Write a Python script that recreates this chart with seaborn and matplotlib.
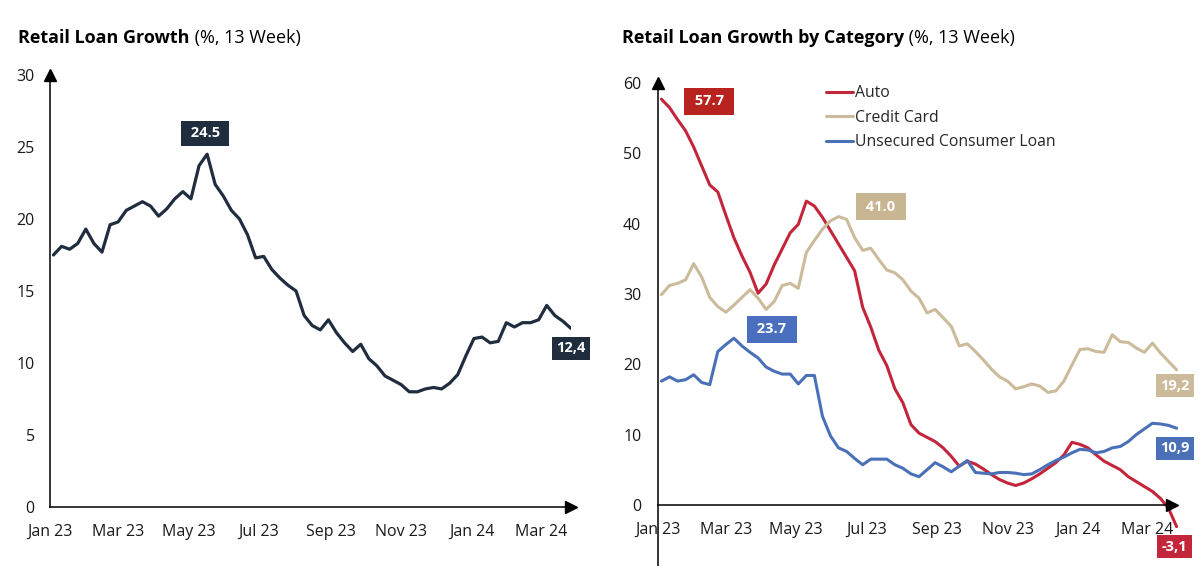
import pandas as pd
import seaborn as sns
import matplotlib.pyplot as plt
import matplotlib.dates as mdates

# weekly data, 13-week growth (%)
dates = pd.date_range('2023-01-04', periods=65, freq='7D')

total = [17.5, 18.1, 17.9, 18.3, 19.3, 18.3, 17.7, 19.6, 19.8, 20.6,
         20.9, 21.2, 20.9, 20.2, 20.7, 21.4, 21.9, 21.4, 23.7, 24.5,
         22.4, 21.6, 20.6, 20.0, 18.9, 17.3, 17.4, 16.5, 15.9, 15.4,
         15.0, 13.3, 12.6, 12.3, 13.0, 12.1, 11.4, 10.8, 11.3, 10.3,
         9.8, 9.1, 8.8, 8.5, 8.0, 8.0, 8.2, 8.3, 8.2, 8.6,
         9.2, 10.5, 11.7, 11.8, 11.4, 11.5, 12.8, 12.5, 12.8, 12.8,
         13.0, 14.0, 13.3, 12.9, 12.4]

auto = [57.7, 56.5, 54.8, 53.2, 50.9, 48.2, 45.5, 44.5, 41.2, 38.0,
        35.4, 33.1, 30.1, 31.4, 34.1, 36.4, 38.7, 39.9, 43.2, 42.5,
        40.9, 39.0, 37.1, 35.2, 33.3, 28.1, 25.3, 22.0, 19.8, 16.5,
        14.5, 11.4, 10.2, 9.6, 9.0, 8.1, 6.9, 5.5, 6.2, 5.8,
        5.1, 4.3, 3.6, 3.1, 2.75, 3.1, 3.7, 4.4, 5.2, 6.0,
        7.1, 8.9, 8.6, 8.1, 7.1, 6.2, 5.6, 5.0, 4.0, 3.3,
        2.6, 1.9, 0.9, -0.5, -3.1]

credit_card = [29.9, 31.2, 31.5, 32.0, 34.3, 32.4, 29.5, 28.2, 27.4, 28.4,
               29.5, 30.6, 29.4, 27.8, 28.9, 31.2, 31.5, 30.8, 35.9, 37.6,
               39.2, 40.4, 41.0, 40.6, 38.0, 36.2, 36.5, 34.9, 33.4, 33.0,
               32.0, 30.4, 29.4, 27.3, 27.8, 26.6, 25.4, 22.6, 22.9, 21.8,
               20.6, 19.3, 18.2, 17.6, 16.5, 16.8, 17.2, 16.9, 16.0, 16.2,
               17.6, 19.9, 22.1, 22.2, 21.8, 21.7, 24.2, 23.2, 23.1, 22.3,
               21.7, 23.0, 21.6, 20.4, 19.2]

unsecured = [17.6, 18.2, 17.6, 17.8, 18.5, 17.4, 17.1, 21.8, 22.8, 23.7,
             22.6, 21.7, 20.9, 19.6, 19.0, 18.6, 18.6, 17.2, 18.4, 18.4,
             12.6, 9.8, 8.1, 7.6, 6.6, 5.7, 6.5, 6.5, 6.5, 5.7,
             5.2, 4.4, 4.0, 5.0, 6.0, 5.4, 4.7, 5.5, 6.3, 4.6,
             4.5, 4.4, 4.6, 4.6, 4.5, 4.3, 4.4, 5.0, 5.7, 6.3,
             6.8, 7.4, 7.9, 7.8, 7.4, 7.6, 8.1, 8.3, 9.0, 10.0,
             10.8, 11.6, 11.5, 11.3, 10.9]

categories = ['Auto', 'Credit Card', 'Unsecured Consumer Loan']
colors = {'Auto': '#c3263b', 'Credit Card': '#cbbb9b', 'Unsecured Consumer Loan': '#4a70b8'}
box_colors = {'Auto': '#b8221f', 'Credit Card': '#c8b591', 'Unsecured Consumer Loan': '#4a6fbf'}
navy = '#1f2d3e'

sns.set_theme(style='white')
plt.rcParams['font.family'] = ['Open Sans', 'DejaVu Sans']

fig = plt.figure(figsize=(12, 5.66), dpi=100)
ax1 = fig.add_axes([50 / 1200, 59 / 566, 521 / 1200, 432 / 566])
ax2 = fig.add_axes([658 / 1200, 0.0, 514 / 1200, 483 / 566])

df_total = pd.DataFrame({'date': dates, 'value': total})
df_cat = pd.concat([
    pd.DataFrame({'date': dates, 'value': auto, 'category': 'Auto'}),
    pd.DataFrame({'date': dates, 'value': credit_card, 'category': 'Credit Card'}),
    pd.DataFrame({'date': dates, 'value': unsecured, 'category': 'Unsecured Consumer Loan'}),
], ignore_index=True)

sns.lineplot(data=df_total, x='date', y='value', color=navy, linewidth=2.3, ax=ax1)
sns.lineplot(data=df_cat, x='date', y='value', hue='category', hue_order=categories,
             palette=colors, linewidth=2.2, ax=ax2, legend=False)
for ln in ax2.get_lines():
    ln.set_clip_on(False)

x_start = pd.Timestamp('2023-01-01')
ax1.set_xlim(x_start, dates[-1])
ax1.set_ylim(0, 30)
ax2.set_xlim(x_start, pd.Timestamp('2024-03-23'))
ax2.set_ylim(-8.7, 60)
ax2.spines['bottom'].set_position(('data', 0))

for ax in (ax1, ax2):
    ax.set_xlabel('')
    ax.set_ylabel('')
    ax.spines['top'].set_visible(False)
    ax.spines['right'].set_visible(False)
    for s in ('left', 'bottom'):
        ax.spines[s].set_color('black')
        ax.spines[s].set_linewidth(1.1)
    ax.xaxis.set_major_locator(mdates.MonthLocator(bymonth=[1, 3, 5, 7, 9, 11]))
    ax.xaxis.set_major_formatter(mdates.DateFormatter('%b %y'))
    ax.tick_params(axis='x', direction='out', length=4, width=1.1, color='black',
                   labelsize=11.5, pad=8, labelcolor='#1a1a1a')
    ax.tick_params(axis='y', length=0, labelsize=11.5, labelcolor='#1a1a1a')
    # axis arrow heads
    ax.plot([1], [0], marker='>', color='black', markersize=8,
            transform=ax.get_yaxis_transform(), clip_on=False)
    ax.plot([0], [1], marker='^', color='black', markersize=8,
            transform=ax.transAxes, clip_on=False)

ax1.set_yticks(range(0, 31, 5))
ax1.tick_params(axis='y', pad=11)
ax2.set_yticks(range(0, 61, 10))
ax2.tick_params(axis='y', pad=12)


def label_box(ax, x, y, text, color, dx, dy, pad=0.38, size=10.5):
    ax.annotate(text, xy=(x, y), xytext=(dx, dy), textcoords='offset pixels',
                ha='center', va='center', color='white', fontsize=size, fontweight='bold',
                bbox=dict(boxstyle=f'square,pad={pad}', fc=color, ec='none'),
                annotation_clip=False)


peak = total.index(max(total))
label_box(ax1, dates[peak], total[peak], f' {total[peak]:.1f} ', navy, -2, 21)
label_box(ax1, dates[-1], total[-1], f'{total[-1]:.1f}'.replace('.', ','), navy, 0, -20, pad=0.3)

label_box(ax2, dates[0], auto[0], f' {auto[0]:.1f} ', box_colors['Auto'], 48, -2, pad=0.45)
cpk = credit_card.index(max(credit_card))
label_box(ax2, dates[cpk], credit_card[cpk], f' {credit_card[cpk]:.1f} ',
          box_colors['Credit Card'], 42, 10, pad=0.45)
upk = unsecured.index(max(unsecured))
label_box(ax2, dates[upk], unsecured[upk], f' {unsecured[upk]:.1f} ',
          box_colors['Unsecured Consumer Loan'], 38, 9, pad=0.45)
for series, cat in ((credit_card, 'Credit Card'), (unsecured, 'Unsecured Consumer Loan'), (auto, 'Auto')):
    label_box(ax2, dates[-1], series[-1], f'{series[-1]:.1f}'.replace('.', ','),
              colors[cat], -2, -16 if cat == 'Credit Card' else -20, pad=0.3)

# legend
handles = [plt.Line2D([], [], color=colors[c], linewidth=2.2) for c in categories]
fig.legend(handles, categories, loc='upper left', bbox_to_anchor=(826 / 1200, 1 - 85 / 566),
           frameon=False, fontsize=11.3, handlelength=1.75, handletextpad=0.12,
           labelspacing=0.55, borderpad=0, borderaxespad=0)

# titles: bold part + regular part
fig.canvas.draw()
renderer = fig.canvas.get_renderer()
for x0, bold, rest in ((18, 'Retail Loan Growth', ' (%, 13 Week)'),
                       (622, 'Retail Loan Growth by Category', ' (%, 13 Week)')):
    t = fig.text(x0 / 1200, 1 - 38 / 566, bold, fontsize=13, fontweight='bold',
                 va='center', ha='left', color='black')
    bb = t.get_window_extent(renderer=renderer)
    fig.text(bb.x1 / 1200, 1 - 38 / 566, rest, fontsize=13, va='center', ha='left', color='black')

plt.savefig('out.png', dpi=100)
